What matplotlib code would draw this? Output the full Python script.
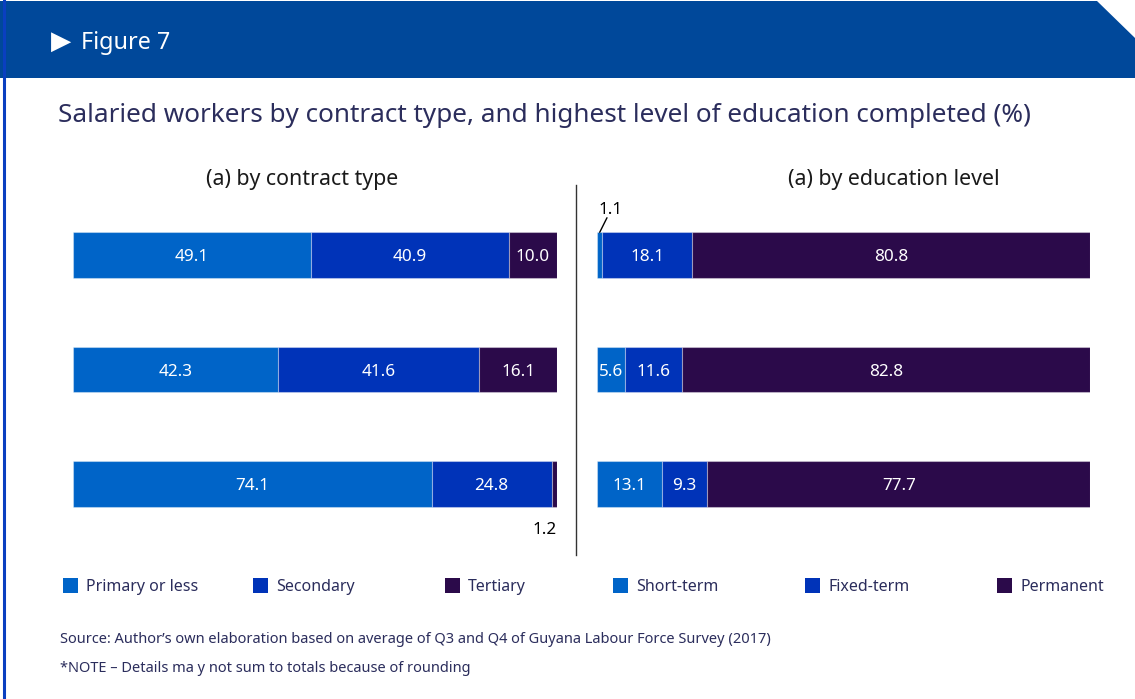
import matplotlib.pyplot as plt
from matplotlib.patches import Polygon, Rectangle
from matplotlib.lines import Line2D

plt.rcParams['font.family'] = ['Noto Sans', 'DejaVu Sans']

# left panel: shares by education
edu_labels = ["Primary or less", "Secondary", "Tertiary"]
edu_primary = [49.1, 42.3, 74.1]
edu_secondary = [40.9, 41.6, 24.8]
edu_tertiary = [10.0, 16.1, 1.2]

# right panel: shares by contract type
contract_labels = ["Short-term", "Fixed-term", "Permanent"]
short_term = [1.1, 5.6, 13.1]
fixed_term = [18.1, 11.6, 9.3]
permanent = [80.8, 82.8, 77.7]

colors = ["#0064c8", "#0033b8", "#2b0a4a"]
navy = "#2b2d5c"

W, H = 1135, 699
fig = plt.figure(figsize=(W / 100, H / 100), dpi=100)


def fx(x):
    return x / W


def fy(y):
    return 1 - y / H


# header band with clipped corner
band = Polygon([(fx(0), fy(1)), (fx(1097), fy(1)), (fx(1135), fy(38)),
                (fx(1135), fy(78)), (fx(0), fy(78))],
               closed=True, facecolor="#00489a", edgecolor="none",
               transform=fig.transFigure)
fig.add_artist(band)
fig.add_artist(Line2D([fx(3.5), fx(3.5)], [fy(0), fy(699)], color="#0a3fc0",
                      lw=2.2, transform=fig.transFigure))
fig.text(fx(51), fy(42), "\u25B6", color="white", fontsize=19,
         va="center", ha="left")
fig.text(fx(81), fy(43), "Figure 7", color="white", fontsize=16.8,
         va="center", ha="left")

fig.text(fx(58), fy(115), "Salaried workers by contract type, and highest level of education completed (%)",
         color=navy, fontsize=18.8, va="center", ha="left")

fig.text(fx(302), fy(179), "(a) by contract type", color="#1a1a1a",
         fontsize=15.4, va="center", ha="center")
fig.text(fx(894), fy(179), "(a) by education level", color="#1a1a1a",
         fontsize=15.4, va="center", ha="center")

# divider between the panels
fig.add_artist(Line2D([fx(576), fx(576)], [fy(185), fy(555)], color="#333333",
                      lw=1.0, transform=fig.transFigure))


def stacked(ax, series):
    rows = range(len(series[0]))
    left = [0.0] * len(series[0])
    for vals, c in zip(series, colors):
        ax.barh(list(rows), vals, left=left, height=0.40, color=c,
                edgecolor=(1, 1, 1, 0.35), linewidth=0.8)
        for i, v in enumerate(vals):
            if v >= 2:
                ax.text(left[i] + v / 2, i + 0.018, f"{v:.1f}", ha="center",
                        va="center", color="white", fontsize=12.3)
        left = [a + b for a, b in zip(left, vals)]
    ax.set_xlim(0, 100)
    ax.set_ylim(2.5, -0.5)
    ax.axis("off")
    return left


top, bottom = 198, 541
ax1 = fig.add_axes([fx(73), fy(bottom), (557 - 73) / W, (bottom - top) / H])
ends = stacked(ax1, [edu_primary, edu_secondary, edu_tertiary])
ax1.text(ends[2] - 0.2, 2.40, f"{edu_tertiary[2]:.1f}", ha="right",
         va="center", fontsize=12.3, color="black")

ax2 = fig.add_axes([fx(597), fy(bottom), (1090 - 597) / W, (bottom - top) / H])
stacked(ax2, [short_term, fixed_term, permanent])
ax2.annotate(f"{short_term[0]:.1f}", xy=(short_term[0] / 2, -0.2),
             xytext=(11, 22), textcoords="offset pixels", ha="center",
             va="center", fontsize=12.3, color="black",
             arrowprops=dict(arrowstyle="-", color="black", lw=1.0,
                             patchA=None, shrinkA=6, shrinkB=0),
             annotation_clip=False)

# legends
for labels, xs in [(edu_labels, [63, 253, 445]),
                   (contract_labels, [613, 805, 997])]:
    for lab, x, c in zip(labels, xs, colors):
        fig.add_artist(Rectangle((fx(x), fy(593)), 15 / W, 15 / H,
                                 facecolor=c, edgecolor="none",
                                 transform=fig.transFigure))
        fig.text(fx(x + 23), fy(587), lab, color=navy, fontsize=11.5,
                 va="center", ha="left")

fig.text(fx(60), fy(639.5), "Source: Author\u2019s own elaboration based on average of Q3 and Q4 of Guyana Labour Force Survey (2017)",
         color=navy, fontsize=10.5, va="center", ha="left")
fig.text(fx(60), fy(668.5), "*NOTE \u2013 Details ma y not sum to totals because of rounding",
         color=navy, fontsize=10.5, va="center", ha="left")

fig.savefig("out.png", dpi=100, facecolor="white")
